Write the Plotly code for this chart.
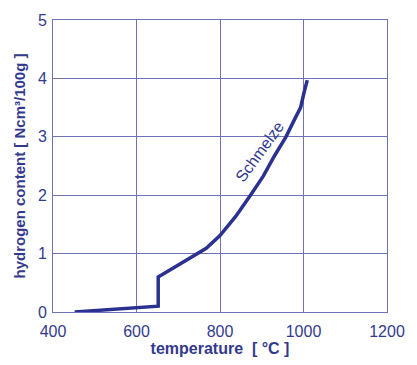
import plotly.graph_objects as go

temperature = [452, 652, 652, 767, 800, 838, 873, 904, 931, 958, 978, 993, 1001, 1009]
hydrogen = [0.0, 0.1, 0.6, 1.09, 1.31, 1.64, 2.0, 2.33, 2.68, 3.0, 3.29, 3.5, 3.75, 3.97]
x_ticks = [400, 600, 800, 1000, 1200]
y_ticks = [0, 1, 2, 3, 4, 5]

line_color = "#2b3190"
text_color = "#333a8e"
grid_color = "#6e72b8"
font_family = "Liberation Sans, Arial"

fig = go.Figure()
fig.add_trace(go.Scatter(x=temperature, y=hydrogen, mode="lines",
                         line=dict(color=line_color, width=3.5), showlegend=False))

fig.add_annotation(x=896, y=2.74, text="Schmelze", showarrow=False, textangle=-54,
                   font=dict(family=font_family, size=16, color=text_color))

axis_common = dict(showgrid=True, gridcolor=grid_color, gridwidth=1, zeroline=False,
                   showline=True, linecolor=grid_color, linewidth=1, mirror=True,
                   ticks="", tickfont=dict(family=font_family, size=16, color=text_color))

fig.update_xaxes(range=[400, 1200], tickvals=x_ticks, ticklabelstandoff=5,
                 title=dict(text="temperature\u00a0\u00a0[ °C ]", standoff=2,
                            font=dict(family=font_family, size=16, color=text_color, weight="bold")),
                 **axis_common)
fig.update_yaxes(range=[0, 5], tickvals=y_ticks, ticklabelstandoff=2,
                 title=dict(text="hydrogen content [ Ncm³/100g ]", standoff=8,
                            font=dict(family=font_family, size=15, color=text_color, weight="bold")),
                 **axis_common)

fig.update_layout(width=417, height=365, margin=dict(l=53, r=22, t=16, b=46),
                  plot_bgcolor="white", paper_bgcolor="white")

post = """
document.documentElement.style.margin='0px';
document.documentElement.style.padding='0px';
document.documentElement.style.overflow='hidden';
document.body.style.margin='0px';
document.body.style.padding='0px';
document.body.style.overflow='hidden';
var gd = document.getElementById('{plot_id}');
gd.style.position='fixed'; gd.style.left='0px'; gd.style.top='0px';
"""

fig.write_html("out.html", config={"displayModeBar": False}, post_script=post)
